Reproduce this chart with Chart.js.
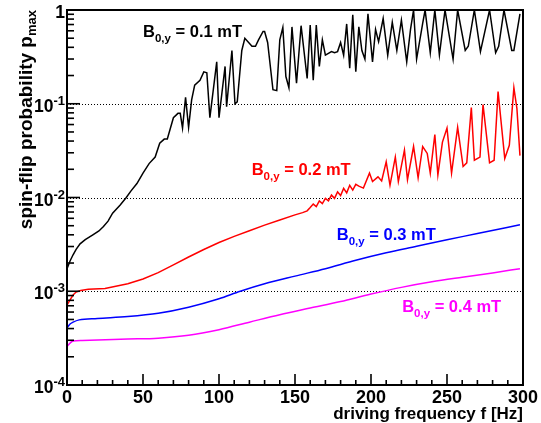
<!DOCTYPE html>
<html><head><meta charset="utf-8">
<script src="https://cdn.jsdelivr.net/npm/chart.js@4.4.1/dist/chart.umd.min.js"></script>
<style>html,body{margin:0;padding:0;background:#fff}#wrap{width:541px;height:423px;position:relative}</style>
</head><body><div id="wrap"><canvas id="c"></canvas></div>
<script>
// ---- data ----
const freqBlack=[0,2,4,6,8.6,12,17,21,24,27,30,35,39,42,46,50,54,58,61,64,66,70,73,74.5,76,78,80,82,84,87.5,90,92,94,98.5,100,104,105,108.5,110.5,112,115,117,121.7,124,126,129,130,132,135.5,138,140,142,144,146,148,151,154,158,160,162,164,166,168,170,174,176,178,180,182,184,186,188,190,192,194,196,198,201,203,205,208,211,214,217,220,223.5,226,228,230,234,235.6,239,242,245,248.7,254,257,262,264,268,272,278,282,284,287.5,292.6,294,298];
const pBlack=[1.74e-3,2.1e-3,2.45e-3,2.8e-3,3.2e-3,3.55e-3,4.0e-3,4.4e-3,4.9e-3,5.6e-3,6.8e-3,8.3e-3,1.0e-2,1.17e-2,1.41e-2,1.82e-2,2.3e-2,2.7e-2,3.8e-2,4.2e-2,4.2e-2,7.1e-2,7.9e-2,7.9e-2,5.5e-2,0.117,5.6e-2,0.11,0.158,0.178,0.219,0.214,0.071,0.28,0.071,0.25,0.093,0.37,0.1,0.105,0.37,0.50,0.41,0.41,0.48,0.59,0.59,0.45,0.141,0.138,0.48,0.65,0.195,0.148,0.66,0.166,0.68,0.186,0.69,0.178,0.69,0.25,0.48,0.33,0.36,0.35,0.36,0.45,0.33,0.71,0.24,0.89,0.22,0.66,0.37,0.30,0.91,0.28,0.62,0.46,0.81,0.33,0.74,0.37,0.78,0.28,0.62,1.0,0.30,0.72,1.0,0.35,1.0,0.33,1.0,0.30,1.0,0.37,0.41,1.0,0.36,1.0,0.35,0.41,1.0,0.37,0.37,0.91];

const freqRed=[0,2,4,6,9,14,25,40,50,60,70,80,90,100,110,120,130,140,150,155,158,160,162,164,166,168,170,172,174,176,178,180,182,184,186,188,190,192,195,199,201,204.6,207,210,212.5,216,218,222,224,228,231,234,237,239,242,244,247,250,253,257,260.6,263,266,268,271.7,273.7,278,281,283.6,288,291,294,296,298];
const pRed=[7.1e-4,8.1e-4,9.1e-4,9.8e-4,1.02e-3,1.05e-3,1.07e-3,1.20e-3,1.35e-3,1.58e-3,1.91e-3,2.32e-3,2.79e-3,3.31e-3,3.85e-3,4.42e-3,5.07e-3,5.75e-3,6.53e-3,6.9e-3,7.2e-3,7.8e-3,8.5e-3,8.0e-3,9.2e-3,8.6e-3,9.8e-3,9.2e-3,1.06e-2,9.8e-3,1.15e-2,1.05e-2,1.25e-2,1.12e-2,1.35e-2,1.2e-2,1.38e-2,1.32e-2,1.26e-2,1.82e-2,1.48e-2,1.66e-2,1.5e-2,2.4e-2,1.35e-2,2.7e-2,1.48e-2,3.2e-2,1.55e-2,3.5e-2,1.62e-2,3.5e-2,2.95e-2,1.82e-2,4.7e-2,1.74e-2,3.9e-2,5.5e-2,1.82e-2,5.6e-2,2.14e-2,2.34e-2,9.1e-2,2.5e-2,2.7e-2,9.8e-2,2.34e-2,2.5e-2,0.135,2.6e-2,3.6e-2,0.148,8.9e-2,2.8e-2];

const freqBlue=[0,2,4,8,20,40,60,80,100,114,130,150,170,190,210,230,250,270,298];
const pBlue=[4.07e-4,4.47e-4,4.68e-4,4.95e-4,5.13e-4,5.37e-4,5.82e-4,6.76e-4,8.32e-4,1.0e-3,1.20e-3,1.45e-3,1.74e-3,2.14e-3,2.57e-3,3.02e-3,3.55e-3,4.12e-3,5.13e-3];

const freqMagenta=[0,2,4,10,40,60,80,100,120,140,160,180,200,220,240,260,280,298];
const pMagenta=[2.57e-4,2.8e-4,2.95e-4,2.99e-4,3.09e-4,3.16e-4,3.39e-4,3.89e-4,4.68e-4,5.62e-4,6.61e-4,7.76e-4,9.33e-4,1.10e-3,1.26e-3,1.41e-3,1.57e-3,1.74e-3];

const seriesLabels=['0.1 mT','0.2 mT','0.3 mT','0.4 mT'];
const seriesColors=['#000000','#ff0000','#0000ff','#ff00ff'];
// label anchor (frequency, probability) of each series' text
const labelFreq=[50,121.5,177.5,220.5];
const labelP=[0.515,0.0174,3.52e-3,6.0e-4];

const xTickValues=[0,50,100,150,200,250,300];
const xTickLabels=['0','50','100','150','200','250','300'];
const yDecades=[1e-4,1e-3,1e-2,1e-1,1];
const yTickMain=['10','10','10','10','1'];
const yTickSup=['-4','-3','-2','-1',''];
const xTitle='driving frequency f [Hz]';
const yTitleMain='spin-flip probability p';
const yTitleSub='max';

const FONT='"Liberation Sans", Arial, Helvetica, sans-serif';

function pts(fx,py){return fx.map((f,i)=>({x:f,y:py[i]}));}

const rootPlugin={
  id:'rootStyle',
  beforeDraw(chart){
    const c=chart.ctx;c.save();c.fillStyle='#fff';c.fillRect(0,0,chart.width,chart.height);c.restore();
  },
  beforeDatasetsDraw(chart){
    const c=chart.ctx,a=chart.chartArea,ys=chart.scales.y;
    c.save();c.strokeStyle='#000';c.lineWidth=1;c.setLineDash([1,2]);
    [1e-3,1e-2,1e-1].forEach(v=>{
      const y=Math.round(ys.getPixelForValue(v))+0.5;
      c.beginPath();c.moveTo(a.left,y);c.lineTo(a.right,y);c.stroke();
    });
    c.restore();
  },
  afterDatasetsDraw(chart){
    const c=chart.ctx,a=chart.chartArea,xs=chart.scales.x,ys=chart.scales.y;
    c.save();
    c.strokeStyle='#000';c.lineWidth=2;c.setLineDash([]);
    c.strokeRect(a.left,a.top,a.right-a.left,a.bottom-a.top);
    c.lineWidth=1.6;
    for(let e=-4;e<=0;e++){
      for(let m=1;m<=9;m++){
        const v=m*Math.pow(10,e); if(v>1.0000001)break;
        const y=ys.getPixelForValue(v);
        const L=(m===1)?13:7;
        c.beginPath();c.moveTo(a.left,y);c.lineTo(a.left+L,y);c.stroke();
      }
    }
    for(let f=0;f<=300;f+=10){
      const x=xs.getPixelForValue(f);
      const L=(f%50===0)?11:5;
      c.beginPath();c.moveTo(x,a.bottom);c.lineTo(x,a.bottom-L);c.stroke();
    }
    c.fillStyle='#000';
    c.font='bold 18px '+FONT;c.textAlign='center';c.textBaseline='alphabetic';
    xTickValues.forEach((v,i)=>{c.fillText(xTickLabels[i],xs.getPixelForValue(v),403);});
    const mainF='bold 17.5px '+FONT, supF='bold 13px '+FONT;
    c.textAlign='left';
    yDecades.forEach((v,i)=>{
      const y=ys.getPixelForValue(v);
      c.font=mainF;const wm=c.measureText(yTickMain[i]).width;
      c.font=supF;const wsup=yTickSup[i]?c.measureText(yTickSup[i]).width:0;
      const right=65, x0=right-wm-wsup;
      c.font=mainF;c.fillText(yTickMain[i],x0,y+8);
      if(yTickSup[i]){c.font=supF;c.fillText(yTickSup[i],x0+wm,y+1);}
    });
    c.font='bold 17px '+FONT;c.textAlign='right';
    c.fillText(xTitle,a.right,419);
    c.save();c.translate(32,a.top);c.rotate(-Math.PI/2);
    const tMain='bold 19px '+FONT,tSub='bold 13px '+FONT;
    c.font=tSub;const wsub=c.measureText(yTitleSub).width;
    c.font=tMain;c.textAlign='right';c.fillText(yTitleMain,-wsub,0);
    c.font=tSub;c.textAlign='left';c.fillText(yTitleSub,-wsub,4);
    c.restore();
    seriesLabels.forEach((t,i)=>{
      const x=xs.getPixelForValue(labelFreq[i]),y=ys.getPixelForValue(labelP[i]);
      c.fillStyle=seriesColors[i];c.textAlign='left';
      c.font='bold 16.5px '+FONT;c.fillText('B',x,y);
      let w=c.measureText('B').width;
      c.font='bold 11.5px '+FONT;c.fillText('0,y',x+w,y+5);
      w+=c.measureText('0,y').width;
      c.font='bold 16.5px '+FONT;c.fillText(' = '+t,x+w,y);
    });
    c.restore();
  }
};

const ds=(fx,py,col,smooth)=>({data:pts(fx,py),borderColor:col,backgroundColor:col,borderWidth:1.5,pointRadius:0,fill:false,
  tension:0,cubicInterpolationMode:smooth?'monotone':'default',clip:0});

new Chart(document.getElementById('c'),{
  type:'line',
  data:{datasets:[
    ds(freqBlack,pBlack,seriesColors[0],false),
    ds(freqRed,pRed,seriesColors[1],false),
    ds(freqBlue,pBlue,seriesColors[2],true),
    ds(freqMagenta,pMagenta,seriesColors[3],true)
  ]},
  options:{
    responsive:true,maintainAspectRatio:false,devicePixelRatio:1,animation:false,
    layout:{padding:{left:67,right:18,top:10,bottom:38}},
    plugins:{legend:{display:false},tooltip:{enabled:false}},
    scales:{
      x:{type:'linear',min:0,max:300,display:false},
      y:{type:'logarithmic',min:1e-4,max:1,display:false}
    }
  },
  plugins:[rootPlugin]
});
</script></body></html>
